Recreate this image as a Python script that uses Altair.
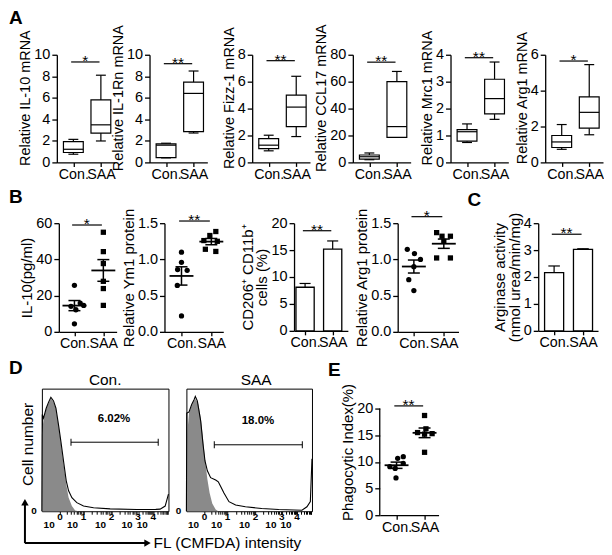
import altair as alt
import pandas as pd
import numpy as np

FONT = "Arial"
GREY = "#8a8a8a"

# ---------------- Panel A: box plots  [min, q1, median, q3, max] ----------------
A_TITLES = ["Relative IL-10 mRNA", "Relative IL-1Rn mRNA", "Relative Fizz-1 mRNA",
            "Relative CCL17 mRNA", "Relative Mrc1 mRNA", "Relative Arg1 mRNA"]
A_CON = [[0.76, 0.92, 1.22, 1.93, 2.14],
         [0.42, 0.45, 1.60, 1.72, 1.78],
         [0.86, 1.03, 1.28, 1.77, 2.02],
         [2.0, 2.5, 4.2, 5.5, 7.0],
         [0.74, 0.79, 1.14, 1.22, 1.43],
         [0.73, 0.83, 1.14, 1.50, 2.11]]
A_SAA = [[1.99, 2.72, 3.49, 5.80, 8.10],
         [2.73, 2.85, 6.41, 7.45, 8.49],
         [1.92, 2.66, 4.11, 5.00, 6.40],
         [18.6, 18.6, 26.6, 60.1, 67.6],
         [1.60, 1.80, 2.37, 3.09, 3.73],
         [1.54, 1.91, 2.79, 3.65, 5.45]]
A_TICKS = [[0, 2, 4, 6, 8, 10], [0, 2, 4, 6, 8, 10], [0, 2, 4, 6, 8],
           [0, 20, 40, 60, 80], [0, 1, 2, 3, 4], [0, 2, 4, 6]]
A_SIG_Y = [9.33, 9.17, 7.56, 74.5, 3.89, 5.65]
A_SIG = ["*", "**", "**", "**", "**", "*"]

# ---------------- Panel B / C / E ----------------
B1_CON = [25.7, 15.9, 14.6, 14.1, 12.2, 4.4]
B1_SAA = [55.0, 44.3, 37.7, 27.9, 23.9, 14.6]
B1_CON_J = [0, 0.2, 0.32, -0.12, 0.05, 0]
B1_SAA_J = [0, 0, 0, 0, 0, 0]

B2_CON = [1.10, 0.96, 0.86, 0.85, 0.64, 0.22]
B2_SAA = [1.385, 1.33, 1.26, 1.25, 1.14, 1.11]
B2_CON_J = [0, 0, -0.13, 0.19, -0.14, 0]
B2_SAA_J = [0.15, -0.05, -0.25, 0.2, -0.2, 0.15]

B3_MEAN = [8.1, 15.2]
B3_SEM = [0.7, 1.5]

B4_CON = [1.14, 1.08, 1.00, 0.90, 0.72, 0.57]
B4_SAA = [1.37, 1.32, 1.32, 1.25, 1.02, 1.02]
B4_CON_J = [-0.22, 0.02, 0.22, 0, -0.17, 0]
B4_SAA_J = [-0.24, -0.06, 0.22, 0, -0.24, 0.22]

C_MEAN = [2.16, 3.03]
C_SEM = [0.25, 0.02]

E_CON = [10.97, 10.66, 9.72, 9.10, 8.78, 7.00]
E_SAA = [18.7, 16.2, 15.5, 15.3, 15.2, 11.8]
E_CON_J = [0.24, 0.04, 0.24, -0.24, -0.05, -0.02]
E_SAA_J = [0, 0.05, -0.25, 0.27, 0, 0]

# ---------------- Panel D: flow histograms (% of frame) ----------------
CON_GRAY_X = [0, 1.3, 3.4, 5.3, 7.1, 9.2, 11.1, 13.2, 15.0, 17.1, 19.2, 21.1, 23.7, 26.3, 29.0]
CON_GRAY_Y = [62.5, 75, 83.3, 88.3, 92.2, 88.9, 83.3, 69.4, 55.6, 38.9, 22.2, 11.1, 4.2, 0.6, 0]
CON_LINE_X = [0, 0.3, 1.3, 3.4, 5.3, 7.1, 9.2, 11.1, 13.2, 15.0, 17.1, 19.2, 21.1, 23.7,
              27.6, 32.9, 40.8, 53.9, 75.0, 90.0, 93.4, 97.4, 100]
CON_LINE_Y = [0, 79, 76, 84, 89, 93, 90, 84, 70, 57, 41, 25, 16.7, 11,
              7, 4.2, 2.8, 1.9, 1.4, 1.5, 1.7, 4.2, 13.9]
SAA_GRAY_X = [0, 2.1, 4.2, 6.1, 7.4, 9.5, 11.4, 13.2, 14.8, 16.7, 18.5, 20.6, 23.3, 25.4]
SAA_GRAY_Y = [55, 80.4, 86, 90.2, 91.6, 87.4, 76.3, 59.5, 42.7, 26, 14.8, 6.4, 1.4, 0]
SAA_LINE_X = [0, 0.3, 2.1, 4.2, 6.1, 7.1, 8.7, 11.4, 13.2, 14.8, 16.7, 19.3, 23.3, 25.4,
              27.2, 29.9, 33.9, 39.2, 47.0, 60.0, 73.5, 92.0, 96.0, 98.7, 100]
SAA_LINE_Y = [0, 80, 81, 87, 91, 93.6, 90, 73.5, 55, 41, 33, 27.4, 25.4, 24,
              20.4, 14.8, 7.8, 5, 3.6, 2.2, 1.4, 0.8, 3.6, 7.8, 42.7]
D_GATE = [[23.0, 91.9, 56.3], [22.2, 92.3, 54.2]]
D_PCT = ["6.02%", "18.0%"]
D_PCT_POS = [[57, 75], [57, 73.7]]
D_DECADES = [14.4, 32.8, 55.0, 76.0, 88.0]
D_EXP = ["0", "1", "2", "3", "4"]
D_TITLES = ["Con.", "SAA"]

LN = dict(color="black", strokeWidth=1.2)


def minor_ticks():
    t = []
    ends = D_DECADES + [100.0]
    for k in range(len(D_DECADES)):
        a, b = ends[k], ends[k + 1]
        t.append(a)
        for m in range(2, 10):
            t.append(a + (b - a) * np.log10(m))
    return [float(round(v, 2)) for v in t]


XAXIS = alt.Axis(values=[0, 1], labelExpr="datum.value == 0 ? 'Con.' : 'SAA'",
                 title=None, labelOverlap=False, labelFlush=False, tickSize=4,
                 labelPadding=1, grid=False, labelFontSize=14.3)


def make_xf(dom):
    def xf(field):
        return alt.X(f"{field}:Q", scale=alt.Scale(domain=dom, nice=False, zero=False), axis=XAXIS)
    return xf


def make_yf(ymax, ticks, title, fmt="d", tfs=14.5, domain=True, title_y=None):
    kw = dict(values=ticks, format=fmt, title=title, titleFontSize=tfs, domain=domain,
              labelFlush=False, grid=False, titleLineHeight=15)
    if title_y is not None:
        kw["titleY"] = title_y
    ax = alt.Axis(**kw)

    def yf(field):
        return alt.Y(f"{field}:Q", scale=alt.Scale(domain=[0, ymax], nice=False, zero=True), axis=ax)
    return yf


def letter(ch, dx, dy):
    return alt.Chart(pd.DataFrame({"t": [ch]})).mark_text(
        align="left", baseline="alphabetic", fontSize=19, fontWeight="bold", color="black"
    ).encode(x=alt.value(dx), y=alt.value(dy), text="t:N")


def sig_layers(xf, yf, sy, st):
    df = pd.DataFrame({"x1": [-0.08], "x2": [0.95], "xm": [0.43], "y": [sy], "t": [st]})
    c = alt.Chart(df)
    return [c.mark_rule(**LN).encode(x=xf("x1"), x2="x2:Q", y=yf("y")),
            c.mark_text(fontSize=15.5, dy=4, baseline="alphabetic", color="black").encode(
                x=xf("xm"), y=yf("y"), text="t:N")]


def box_panel(i):
    xf = make_xf([-0.6, 1.5])
    yf = make_yf(A_TICKS[i][-1], A_TICKS[i], A_TITLES[i], title_y=43)
    rows = []
    for g, v in ((0, A_CON[i]), (1, A_SAA[i])):
        rows.append({"g": g, "l": g - 0.36, "r": g + 0.36, "cl": g - 0.18, "cr": g + 0.18,
                     "mn": v[0], "q1": v[1], "md": v[2], "q3": v[3], "mx": v[4]})
    c = alt.Chart(pd.DataFrame(rows))
    layers = [
        c.mark_rule(**LN).encode(x=xf("g"), y=yf("mn"), y2="q1:Q"),
        c.mark_rule(**LN).encode(x=xf("g"), y=yf("q3"), y2="mx:Q"),
        c.mark_rule(**LN).encode(x=xf("cl"), x2="cr:Q", y=yf("mn")),
        c.mark_rule(**LN).encode(x=xf("cl"), x2="cr:Q", y=yf("mx")),
        c.mark_rect(fill="white", stroke="black", strokeWidth=1.2).encode(
            x=xf("l"), x2="r:Q", y=yf("q1"), y2="q3:Q"),
        c.mark_rule(**LN).encode(x=xf("l"), x2="r:Q", y=yf("md")),
    ] + sig_layers(xf, yf, A_SIG_Y[i], A_SIG[i])
    if i == 0:
        layers.append(letter("A", -48, -31))
    return alt.layer(*layers).properties(width=58, height=108)


def dot_panel(con, saa, jc, js, xdom, width, height, yf, sy, st, extra=()):
    xf = make_xf(xdom)
    df = pd.DataFrame({
        "g": [0] * len(con) + [1] * len(saa),
        "grp": ["Con."] * len(con) + ["SAA"] * len(saa),
        "v": con + saa,
        "pos": [j for j in jc] + [1 + j for j in js],
    })
    pts = alt.Chart(df).mark_point(filled=True, size=28, color="black", opacity=1).encode(
        x=xf("pos"), y=yf("v"),
        shape=alt.Shape("grp:N", scale=alt.Scale(domain=["Con.", "SAA"], range=["circle", "square"]),
                        legend=None))
    base = alt.Chart(df).transform_aggregate(
        m="mean(v)", se="stderr(v)", groupby=["g"]
    ).transform_calculate(lo="datum.m - datum.se", hi="datum.m + datum.se")
    layers = [
        pts,
        base.mark_tick(orient="horizontal", size=24, thickness=1.8, color="black", opacity=1).encode(
            x=xf("g"), y=yf("m")),
        base.mark_rule(strokeWidth=1.5, color="black").encode(x=xf("g"), y=yf("lo"), y2="hi:Q"),
        base.mark_tick(orient="horizontal", size=12, thickness=1.5, color="black", opacity=1).encode(
            x=xf("g"), y=yf("lo")),
        base.mark_tick(orient="horizontal", size=12, thickness=1.5, color="black", opacity=1).encode(
            x=xf("g"), y=yf("hi")),
    ] + sig_layers(xf, yf, sy, st) + list(extra)
    return alt.layer(*layers).properties(width=width, height=height)


def bar_panel(means, sems, xdom, width, yf, sy, st, extra=()):
    xf = make_xf(xdom)
    df = pd.DataFrame({"g": [0, 1], "m": means, "hi": [m + s for m, s in zip(means, sems)],
                       "b": [0, 0]})
    df["l"] = df.g - 0.33
    df["r"] = df.g + 0.33
    df["cl"] = df.g - 0.2
    df["cr"] = df.g + 0.2
    c = alt.Chart(df)
    layers = [
        c.mark_rect(fill="white", stroke="black", strokeWidth=1.3).encode(
            x=xf("l"), x2="r:Q", y=yf("b"), y2="m:Q"),
        c.mark_rule(**LN).encode(x=xf("g"), y=yf("m"), y2="hi:Q"),
        c.mark_rule(**LN).encode(x=xf("cl"), x2="cr:Q", y=yf("hi")),
    ] + sig_layers(xf, yf, sy, st) + list(extra)
    return alt.layer(*layers).properties(width=width, height=108)


def d_panel(k, gx, gy, lx, ly, tdx, width, height, extra=()):
    xs = alt.Scale(domain=[0, 100], nice=False, zero=False)
    ys = alt.Scale(domain=[0, 100], nice=False, zero=True)
    xax = alt.Axis(values=minor_ticks(), labels=False, domain=False, tickSize=3, tickWidth=1,
                   title=None, grid=False)

    def X(f):
        return alt.X(f"{f}:Q", scale=xs, axis=xax)

    def Y(f):
        return alt.Y(f"{f}:Q", scale=ys, axis=None)

    gdf = pd.DataFrame({"x": gx, "y": gy})
    ldf = pd.DataFrame({"x": lx, "y": ly, "i": list(range(len(lx)))})
    gate = pd.DataFrame({"a": [D_GATE[k][0]], "b": [D_GATE[k][1]], "y": [D_GATE[k][2]]})
    ends = pd.DataFrame({"x": D_GATE[k][:2], "y": [D_GATE[k][2]] * 2})
    pct = pd.DataFrame({"x": [D_PCT_POS[k][0]], "y": [D_PCT_POS[k][1]], "t": [D_PCT[k]]})
    dec = pd.DataFrame({"x": D_DECADES, "e": D_EXP})
    ttl = pd.DataFrame({"t": [D_TITLES[k]]})
    zero = pd.DataFrame({"y": [0], "t": ["0"]})
    layers = [
        alt.Chart(gdf).mark_area(color=GREY, opacity=1).encode(x=X("x"), y=Y("y")),
        alt.Chart(ldf).mark_line(color="black", strokeWidth=1.1).encode(x=X("x"), y=Y("y"), order="i:Q"),
        alt.Chart(gate).mark_rule(color="black", strokeWidth=1).encode(x=X("a"), x2="b:Q", y=Y("y")),
        alt.Chart(ends).mark_tick(orient="vertical", size=7, thickness=1, color="black", opacity=1).encode(
            x=X("x"), y=Y("y")),
        alt.Chart(pct).mark_text(fontSize=11.5, fontWeight="bold", color="black").encode(
            x=X("x"), y=Y("y"), text="t:N"),
        alt.Chart(dec).mark_text(fontSize=10, fontWeight="bold", dx=-11, dy=17,
                                 baseline="alphabetic", color="black").encode(
            x=X("x"), y=alt.value(height), text=alt.value("10")),
        alt.Chart(dec).mark_text(fontSize=10, fontWeight="bold", dy=9,
                                 baseline="alphabetic", color="black").encode(
            x=X("x"), y=alt.value(height), text="e:N"),
        alt.Chart(zero).mark_text(fontSize=10, fontWeight="bold", align="right", baseline="middle",
                                  dx=-5, color="black").encode(
            x=alt.value(0), y=Y("y"), text="t:N"),
        alt.Chart(ttl).mark_text(fontSize=15.5, baseline="alphabetic", align="center", color="black").encode(
            x=alt.value(width / 2 + tdx), y=alt.value(-4), text="t:N"),
    ] + list(extra)
    return alt.layer(*layers).properties(
        width=width, height=height,
        view=alt.ViewBackground(stroke="black", strokeWidth=1),
    )


def spacer(w):
    return alt.Chart(pd.DataFrame({"s": [0]})).mark_point(opacity=0).encode(
        x=alt.value(0), y=alt.value(0)).properties(width=w, height=1)


# ---------------- Row A ----------------
pa = [box_panel(i) for i in range(6)]
rowA = alt.hconcat(spacer(15), pa[0], spacer(35), pa[1], spacer(45), pa[2], spacer(43), pa[3],
                   spacer(40), pa[4], spacer(37), pa[5], spacing=0, bounds="flush")

# ---------------- Row B ----------------
yB1 = make_yf(60, [0, 20, 40, 60], "IL-10(pg/ml)", tfs=15)
pB1 = dot_panel(B1_CON, B1_SAA, B1_CON_J, B1_SAA_J, [-0.54, 1.46], 58, 109, yB1, 59.0, "*",
                extra=[letter("B", -50, -20)])
yB2 = make_yf(1.5, [0, 0.5, 1.0, 1.5], "Relative Ym1 protein", fmt=".1f", tfs=15)
pB2 = dot_panel(B2_CON, B2_SAA, B2_CON_J, B2_SAA_J, [-0.57, 1.4], 59, 109, yB2, 1.53, "**")
yB3 = make_yf(20, [0, 5, 10, 15, 20], ["CD206\u207a CD11b\u207a", "cells (%)"], tfs=15)
pB3 = bar_panel(B3_MEAN, B3_SEM, [-0.4, 1.55], 54, yB3, 18.6, "**")
yB4 = make_yf(1.5, [0, 0.5, 1.0, 1.5], "Relative Arg1 protein", fmt=".1f", tfs=15)
pB4 = dot_panel(B4_CON, B4_SAA, B4_CON_J, B4_SAA_J, [-0.54, 1.49], 61, 109, yB4, 1.59, "*")
yC = make_yf(4, [0, 1, 2, 3, 4], ["Arginase activity", "(nmol urea/min/mg)"], tfs=15)
pC = bar_panel(C_MEAN, C_SEM, [-0.55, 1.52], 60, yC, 3.59, "**", extra=[letter("C", -71, -17)])
rowB = alt.hconcat(spacer(17), pB1, spacer(48), pB2, spacer(71), pB3, spacer(50), pB4, spacer(80), pC,
                   spacing=0, bounds="flush")

# ---------------- Row D / E ----------------
one = pd.DataFrame({"a": [0]})
d_extra = [
    letter("D", -33, -15),
    alt.Chart(one).mark_rule(color="black", strokeWidth=2).encode(
        x=alt.value(-17), y=alt.value(113), y2=alt.value(155)),
    alt.Chart(one).mark_rule(color="black", strokeWidth=2).encode(
        x=alt.value(-17), x2=alt.value(104), y=alt.value(155)),
    alt.Chart(one).mark_point(shape="triangle-up", filled=True, size=55, color="black", opacity=1).encode(
        x=alt.value(-17), y=alt.value(114)),
    alt.Chart(one).mark_point(shape="triangle-right", filled=True, size=55, color="black", opacity=1).encode(
        x=alt.value(106), y=alt.value(155)),
    alt.Chart(one).mark_text(angle=270, fontSize=15.5, align="center", baseline="middle", color="black").encode(
        x=alt.value(-13.5), y=alt.value(56), text=alt.value("Cell number")),
    alt.Chart(one).mark_text(fontSize=15.5, align="left", baseline="middle", color="black").encode(
        x=alt.value(112), y=alt.value(155), text=alt.value("FL (CMFDA) intensity")),
]
pDc = d_panel(0, CON_GRAY_X, CON_GRAY_Y, CON_LINE_X, CON_LINE_Y, 0, 127, 123, extra=d_extra)
pDs = d_panel(1, SAA_GRAY_X, SAA_GRAY_Y, SAA_LINE_X, SAA_LINE_Y, 7, 126, 123)

E_TOP = 20 * 127 / 107
yE = make_yf(E_TOP, [0, 5, 10, 15, 20], "Phagocytic Index(%)", tfs=15, domain=False)
e_axis_line = alt.Chart(pd.DataFrame({"a": [0], "b": [20]})).mark_rule(color="black", strokeWidth=1.3).encode(
    x=alt.value(0), y=yE("a"), y2="b:Q")
pE = dot_panel(E_CON, E_SAA, E_CON_J, E_SAA_J, [-0.6, 1.5], 59, 127, yE, 20.5, "**",
               extra=[e_axis_line, letter("E", -52, -13)])
rowDE = alt.hconcat(pDc, spacer(18), pDs, spacer(68), pE, spacing=0, bounds="flush")

chart = alt.vconcat(rowA, rowB, rowDE, spacing=6).properties(
    padding=0, background="white"
).configure_view(stroke=None).configure_axis(
    domainColor="black", domainWidth=1.3, tickColor="black", tickWidth=1.3, tickSize=5,
    labelColor="black", titleColor="black", labelFont=FONT, titleFont=FONT,
    labelFontSize=14.5, titleFontSize=14.5, titleFontWeight="normal", grid=False,
    labelPadding=2, titlePadding=1
).configure_text(font=FONT).configure_title(font=FONT, color="black")

chart.save("out.html", embed_options={"renderer": "svg", "actions": False})
